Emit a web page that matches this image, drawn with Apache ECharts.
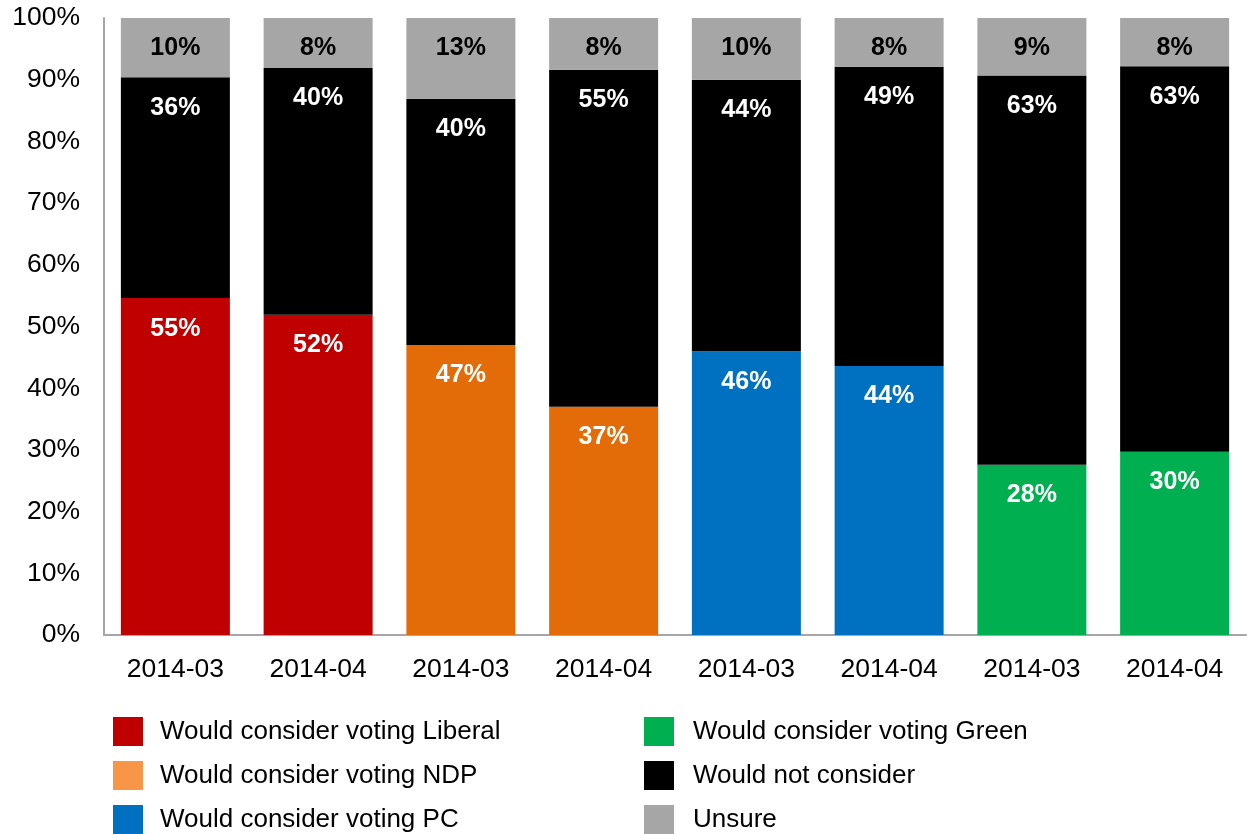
<!DOCTYPE html>
<html>
<head>
<meta charset="utf-8">
<style>
  html, body { margin: 0; padding: 0; background: #fff; }
  #chart { width: 1247px; height: 834px; }
</style>
<script src="https://cdn.jsdelivr.net/npm/echarts@6/dist/echarts.min.js"></script>
</head>
<body>
<div id="chart"></div>
<script>
// categories (two waves per party)
const categories = ['2014-03', '2014-04', '2014-03', '2014-04', '2014-03', '2014-04', '2014-03', '2014-04'];

// share of respondents (%)
const liberal = [54.6, 51.9, '-', '-', '-', '-', '-', '-'];
const ndp = ['-', '-', 47.0, 37.0, '-', '-', '-', '-'];
const pc = ['-', '-', '-', '-', 46.0, 43.6, '-', '-'];
const green = ['-', '-', '-', '-', '-', '-', 27.6, 29.7];
const notConsider = [35.8, 40.0, 39.9, 54.6, 44.0, 48.5, 63.1, 62.5];
const unsure = [9.6, 8.1, 13.1, 8.4, 10.0, 7.9, 9.3, 7.8];

const yTicks = [0, 10, 20, 30, 40, 50, 60, 70, 80, 90, 100];

const font = 'Liberation Sans, Arial, sans-serif';

const chart = echarts.init(document.getElementById('chart'));

function label(color) {
    return {
        show: true,
        position: 'insideTop',
        distance: 18,
        color: color,
        fontFamily: font,
        fontSize: 25,
        fontWeight: 'bold',
        formatter: p => Math.round(p.value) + '%'
    };
}

function bar(name, data, color, labelColor) {
    return {
        name: name,
        type: 'bar',
        stack: 'all',
        data: data,
        barWidth: 109,
        itemStyle: {color: color},
        label: label(labelColor),
        emphasis: {disabled: true}
    };
}

function legend(left, textPad, items) {
    return {
        orient: 'vertical',
        left: left,
        top: 717,
        padding: 0,
        icon: 'rect',
        itemWidth: 30,
        itemHeight: 29,
        itemGap: 15,
        selectedMode: false,
        textStyle: {fontFamily: font, fontSize: 26, color: '#000', padding: [0, 0, 0, textPad]},
        data: items
    };
}

chart.setOption({
    animation: false,
    grid: {left: 104, right: 1, top: 18, bottom: 199},
    legend: [
        legend(113, 12, [
            {name: 'Would consider voting Liberal'},
            {name: 'Would consider voting NDP', itemStyle: {color: '#F79646'}},
            {name: 'Would consider voting PC'}
        ]),
        legend(644, 14, [
            {name: 'Would consider voting Green'},
            {name: 'Would not consider'},
            {name: 'Unsure'}
        ])
    ],
    xAxis: {
        type: 'category',
        data: categories,
        axisLine: {lineStyle: {color: '#a6a6a6', width: 2}},
        axisTick: {show: false},
        axisLabel: {color: '#000', fontFamily: font, fontSize: 26.5, margin: 21}
    },
    yAxis: {
        type: 'value',
        min: yTicks[0],
        max: yTicks[yTicks.length - 1],
        interval: 10,
        axisLine: {show: true, lineStyle: {color: '#a6a6a6', width: 2}},
        axisTick: {show: false},
        splitLine: {show: false},
        axisLabel: {color: '#000', fontFamily: font, fontSize: 26.5, margin: 24, formatter: '{value}%'}
    },
    series: [
        bar('Would consider voting Liberal', liberal, '#C00000', '#fff'),
        bar('Would consider voting NDP', ndp, '#E36C09', '#fff'),
        bar('Would consider voting PC', pc, '#0070C0', '#fff'),
        bar('Would consider voting Green', green, '#00B050', '#fff'),
        bar('Would not consider', notConsider, '#000000', '#fff'),
        bar('Unsure', unsure, '#A6A6A6', '#000')
    ]
});
</script>
</body>
</html>
